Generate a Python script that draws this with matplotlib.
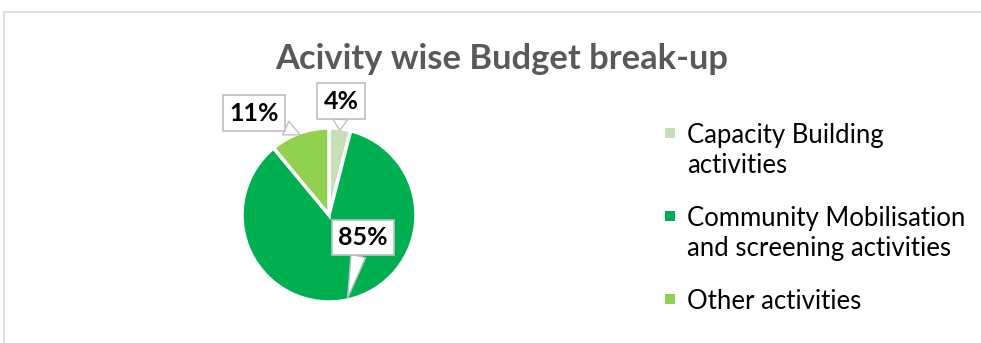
import numpy as np
import matplotlib.pyplot as plt
from matplotlib.patches import Rectangle

categories = ["Capacity Building\nactivities",
              "Community Mobilisation\nand screening activities",
              "Other activities"]
shares = [4, 85, 11]
colors = ["#C5E0B4", "#00B050", "#92D050"]

plt.rcParams['font.family'] = ['Lato', 'DejaVu Sans']

W, H = 981, 343
fig = plt.figure(figsize=(W / 100, H / 100), dpi=100)

# chart frame
fig.add_artist(Rectangle((4 / W, -0.5), 2, 1.5 - 12 / H, transform=fig.transFigure,
                         fill=False, edgecolor="#D9D9D9", linewidth=1.2))

fig.text(502 / W, 1 - 59 / H, "Acivity wise Budget break-up", ha="center", va="center",
         fontsize=24.8, fontweight="bold", color="#595959")

# pie axes: center (329, 215), radius 87 px
cx, cy, r = 329, 215, 87
ax = fig.add_axes([(cx - r) / W, (H - cy - r) / H, 2 * r / W, 2 * r / H])
wedges, _ = ax.pie(shares, colors=colors, startangle=90, counterclock=False,
                   wedgeprops=dict(edgecolor="white", linewidth=2.5))
ax.set_xlim(-1, 1)
ax.set_ylim(-1, 1)
ax.set_aspect("equal")

# callout label positions (pie units)
label_pos = [(0.14, 1.31), (0.39, -0.26), (-0.86, 1.17)]
for w, val, (tx, ty) in zip(wedges, shares, label_pos):
    mid = np.deg2rad((w.theta1 + w.theta2) / 2)
    px, py = 0.98 * np.cos(mid), 0.98 * np.sin(mid)
    ax.annotate(f"{val}%", xy=(px, py), xytext=(tx, ty), ha="center", va="center",
                fontsize=18, fontweight="bold", color="black", annotation_clip=False,
                bbox=dict(boxstyle="square,pad=0.25", facecolor="white",
                          edgecolor="#BFBFBF", linewidth=1.2),
                arrowprops=dict(arrowstyle="wedge,tail_width=0.6", facecolor="white",
                                edgecolor="#BFBFBF", linewidth=1.0, shrinkA=0, shrinkB=0))

# legend: square marker beside the first line of each entry
y = 133
line_step, entry_gap = 30, 23
for label, col in zip(categories, colors):
    fig.add_artist(Rectangle((665 / W, 1 - (y + 5) / H), 10 / W, 10 / H,
                             transform=fig.transFigure, facecolor=col, edgecolor="none"))
    for line in label.split("\n"):
        fig.text(687 / W, 1 - y / H, line, ha="left", va="center_baseline",
                 fontsize=18.5, color="black")
        y += line_step
    y += entry_gap

fig.savefig("out.png", dpi=100)
